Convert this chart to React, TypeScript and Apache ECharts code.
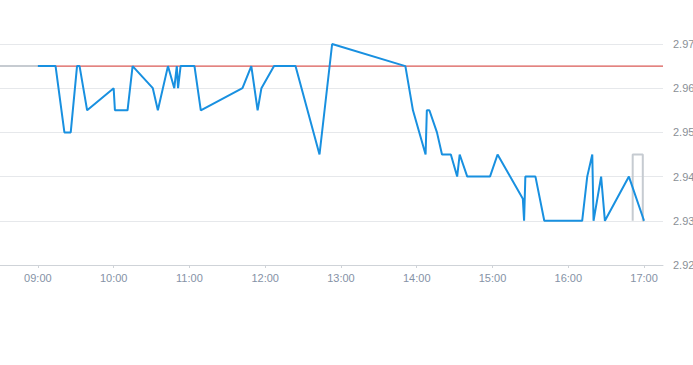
import React, { useEffect, useRef } from "react";
import * as echarts from "echarts";

const blueTimes = [
  "09:00", "09:14", "09:21", "09:26", "09:31", "09:33", "09:39", "10:00", "10:01", "10:11",
  "10:15", "10:31", "10:35", "10:43", "10:48", "10:50", "10:51", "10:53", "11:04", "11:09",
  "11:42", "11:49", "11:54", "11:57", "12:07", "12:24", "12:43", "12:53", "13:51", "13:57",
  "14:07", "14:08", "14:10", "14:16", "14:20", "14:27", "14:32", "14:34", "14:40", "14:58",
  "15:04", "15:24", "15:25", "15:26", "15:34", "15:41", "16:11", "16:15", "16:19", "16:20",
  "16:26", "16:29", "16:48", "17:00",
];
const blueValues = [
  2.965, 2.965, 2.95, 2.95, 2.965, 2.965, 2.955, 2.96, 2.955, 2.955,
  2.965, 2.96, 2.955, 2.965, 2.96, 2.965, 2.96, 2.965, 2.965, 2.955,
  2.96, 2.965, 2.955, 2.96, 2.965, 2.965, 2.945, 2.97, 2.965, 2.955,
  2.945, 2.955, 2.955, 2.95, 2.945, 2.945, 2.94, 2.945, 2.94, 2.94,
  2.945, 2.935, 2.93, 2.94, 2.94, 2.93, 2.93, 2.94, 2.945, 2.93,
  2.94, 2.93, 2.94, 2.93,
];
const greyStartTimes = ["08:30", "09:00"];
const greyStartValues = [2.965, 2.965];
const greyEndTimes = ["16:51", "16:51", "16:59", "16:59", "17:00"];
const greyEndValues = [2.93, 2.945, 2.945, 2.93, 2.93];
const referencePrice = 2.965;
const tickTimes = ["09:00", "10:00", "11:00", "12:00", "13:00", "14:00", "15:00", "16:00", "17:00"];
const axisStart = "08:30";
const axisEnd = "17:15";

const toMin = (s: string) => {
  const [h, m] = s.split(":").map(Number);
  return h * 60 + m;
};
const fmt = (v: number) => {
  const h = Math.floor(v / 60);
  const m = Math.round(v % 60);
  return `${String(h).padStart(2, "0")}:${String(m).padStart(2, "0")}`;
};
const pairs = (t: string[], v: number[]) => t.map((s, i) => [toMin(s), v[i]]);

export default function App() {
  const ref = useRef<HTMLDivElement>(null);
  useEffect(() => {
    if (!ref.current) return;
    const chart = echarts.init(ref.current, undefined, { renderer: "svg" });
    const ticks = tickTimes.map(toMin);
    chart.setOption({
      animation: false,
      textStyle: { fontFamily: "'Liberation Sans', Arial, sans-serif" },
      grid: {
        left: 0,
        right: 30,
        top: 44,
        bottom: 100,
        containLabel: false,
        outerBoundsMode: "none",
      },
      xAxis: {
        type: "value",
        min: toMin(axisStart),
        max: toMin(axisEnd),
        axisLine: { lineStyle: { color: "#cfd3d8", width: 1 } },
        axisTick: { show: true, length: 3, customValues: ticks, lineStyle: { color: "#cfd3d8" } },
        axisLabel: {
          customValues: ticks,
          formatter: (v: number) => fmt(v),
          color: "#8592a6",
          fontSize: 11,
          margin: 7,
        },
        splitLine: { show: false },
      },
      yAxis: {
        type: "value",
        position: "right",
        min: 2.92,
        max: 2.97,
        interval: 0.01,
        axisLine: { show: false },
        axisTick: { show: false },
        axisLabel: {
          formatter: (v: number) => v.toFixed(2),
          color: "#8a8f96",
          fontSize: 11,
          margin: 10,
        },
        splitLine: { lineStyle: { color: "#e6e8eb", width: 1 } },
      },
      series: [
        {
          type: "line",
          data: pairs([axisStart, axisEnd], [referencePrice, referencePrice]),
          showSymbol: false,
          silent: true,
          lineStyle: { color: "#d0302b", width: 1 },
          z: 1,
        },
        {
          type: "line",
          data: pairs(greyStartTimes, greyStartValues),
          showSymbol: false,
          lineStyle: { color: "#c6cbd1", width: 2 },
          z: 2,
        },
        {
          type: "line",
          data: pairs(greyEndTimes, greyEndValues),
          showSymbol: false,
          lineStyle: { color: "#c6cbd1", width: 2 },
          z: 2,
        },
        {
          type: "line",
          data: pairs(blueTimes, blueValues),
          showSymbol: false,
          lineStyle: { color: "#1890e0", width: 2 },
          z: 3,
        },
      ],
    });
    return () => chart.dispose();
  }, []);
  return (
    <div
      ref={ref}
      style={{ position: "fixed", left: 0, top: 0, width: 693, height: 365, background: "#fff" }}
    />
  );
}
